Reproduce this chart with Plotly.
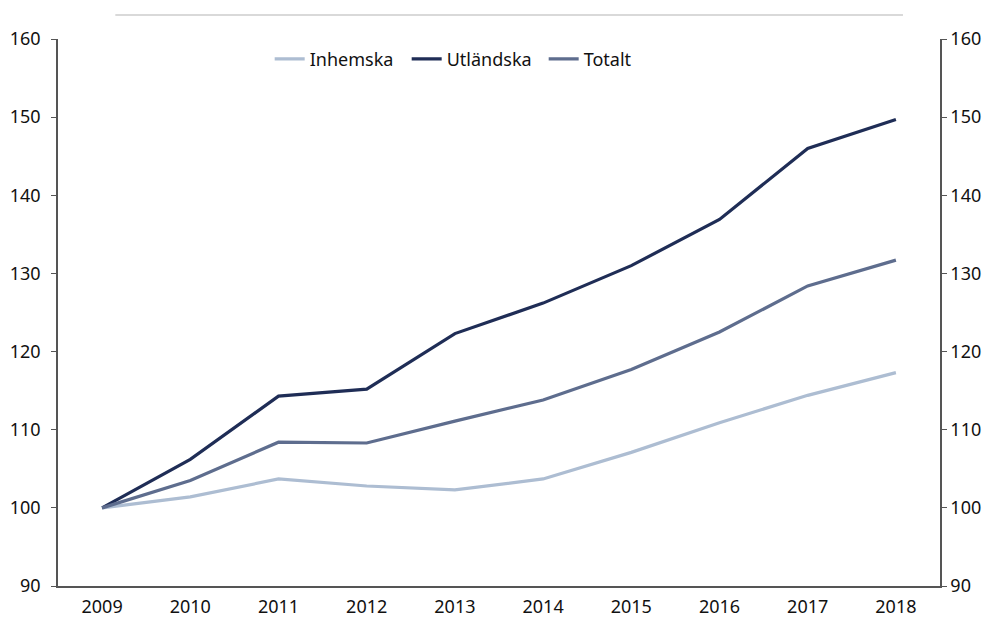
import plotly.graph_objects as go

years = ["2009", "2010", "2011", "2012", "2013", "2014", "2015", "2016", "2017", "2018"]
inhemska = [100, 101.4, 103.7, 102.8, 102.3, 103.7, 107.1, 110.9, 114.4, 117.3]
utlandska = [100, 106.2, 114.3, 115.2, 122.3, 126.2, 131.0, 136.9, 146.0, 149.7]
totalt = [100, 103.5, 108.4, 108.3, 111.1, 113.8, 117.7, 122.5, 128.4, 131.7]

series = [
    ("Inhemska", inhemska, "#adbdd2"),
    ("Utländska", utlandska, "#1f2d56"),
    ("Totalt", totalt, "#5e6d8e"),
]

fig = go.Figure()
for name, vals, col in series:
    fig.add_trace(go.Scatter(x=years, y=vals, name=name, mode="lines",
                             line=dict(color=col, width=3.2)))
# invisible trace for the right axis
fig.add_trace(go.Scatter(x=years, y=totalt, yaxis="y2", showlegend=False,
                         mode="lines", line=dict(width=0), hoverinfo="skip", opacity=0))

font = dict(family="Noto Sans, sans-serif", size=18, color="#111111")
yax = dict(range=[90, 160], dtick=10, showgrid=False, zeroline=False,
           showline=True, linecolor="#555555", linewidth=1.5, automargin=False,
           ticks="outside", ticklen=5, tickcolor="#555555", tickfont=font)
fig.update_layout(
    width=983, height=611,
    margin=dict(l=50, r=51, t=31, b=33, autoexpand=False),
    paper_bgcolor="white", plot_bgcolor="white",
    xaxis=dict(type="category", range=[-0.5, 9.5], showgrid=False, zeroline=False,
               showline=True, linecolor="#555555", linewidth=1.5, ticks="",
               automargin=False, tickfont=font, ticklabelstandoff=4),
    yaxis=dict(yax, ticklabelstandoff=7),
    yaxis2=dict(yax, overlaying="y", side="right"),
    legend=dict(orientation="h", x=0.24, y=0.963, xanchor="left", yanchor="middle",
                font=font, bgcolor="rgba(0,0,0,0)", itemwidth=30,
                entrywidth=92, entrywidthmode="pixels", tracegroupgap=0),
    shapes=[dict(type="line", xref="paper", yref="paper", x0=0.065, x1=0.958,
                 y0=1.044, y1=1.044, line=dict(color="#cccccc", width=1.5))],
    showlegend=True,
)
fig.write_html("out.html")
